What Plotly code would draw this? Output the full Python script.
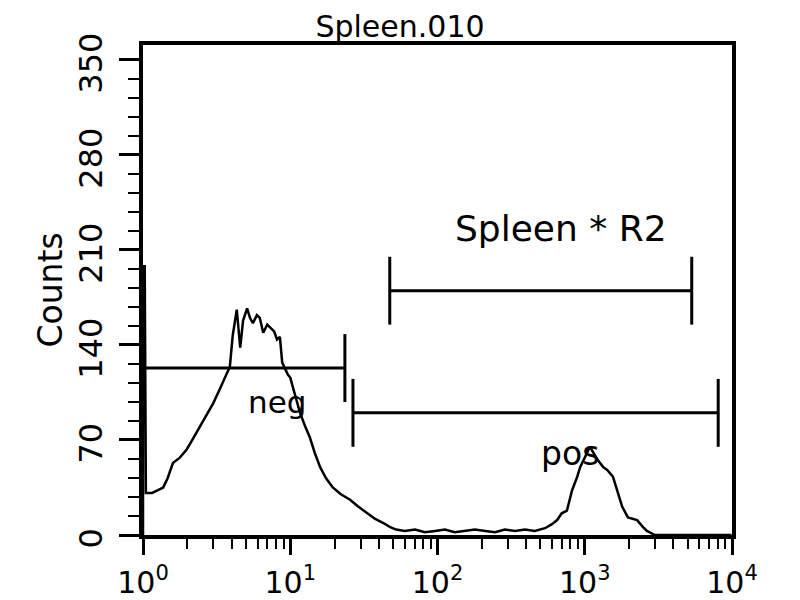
import plotly.graph_objects as go

# ---------------- data ----------------
# FL channel (0..1023, 4-decade log amplification: value = 10**(ch/256)) and event counts
channels = [0, 0, 3, 5, 7, 16, 26, 35, 43, 52, 64, 76, 87, 99, 111, 122, 134, 146, 151,
            156, 163, 169, 174, 181, 186, 191, 198, 203, 209, 216, 221, 228, 233, 238,
            242, 247, 252, 256, 261, 266, 273, 282, 290, 299, 308, 318, 330, 344, 360,
            374, 389, 403, 417, 429, 440, 455, 473, 490, 508, 525, 542, 560, 577, 595,
            612, 629, 647, 664, 681, 699, 711, 720, 728, 737, 746, 755, 760, 768, 777,
            784, 791, 800, 807, 817, 826, 833, 843, 859, 869, 876, 890, 960, 1023]
counts = [0, 198, 198, 31, 31, 31, 33, 35, 42, 53, 57, 63, 71, 80, 89, 97, 108, 119, 124,
          147, 166, 138, 158, 167, 160, 156, 162, 160, 149, 155, 153, 150, 144, 146,
          127, 122, 118, 116, 108, 100, 90, 80, 72, 60, 50, 42, 35, 30, 26,
          21, 16, 12, 9, 6, 4, 3, 4, 2, 3, 4, 2, 3, 4, 3,
          2, 4, 3, 4, 3, 5, 8, 11, 16, 18, 33, 43, 50, 57, 65,
          60, 55, 50, 48, 43, 31, 21, 13, 11, 6, 3, 0, 0, 0]

# marker gates (channels) and their count level on the plot
gate_names = ["neg", "pos", "Spleen * R2"]
gate_start = [0, 365, 429]
gate_end = [351, 1000, 954]
gate_level = [123, 90, 180]

x_tick_vals = [1, 10, 100, 1000, 10000]
x_tick_text = ["10<sup>0</sup>", "10<sup>1</sup>", "10<sup>2</sup>", "10<sup>3</sup>", "10<sup>4</sup>"]
x_minor_vals = [2, 3, 4, 5, 6, 7, 8, 9,
                20, 30, 40, 50, 60, 70, 80, 90,
                200, 300, 400, 500, 600, 700, 800, 900,
                2000, 3000, 4000, 5000, 6000, 7000, 8000, 9000]
y_tick_vals = [0, 70, 140, 210, 280, 350]
y_tick_text = ["0", "70", "140", "210", "280", "350"]

title_text = "Spleen.010"
y_title = "Counts"

# --------------- figure ---------------
def ch2val(c):
    return 10 ** (c / 256.0)

FONT = "DejaVu Sans, Verdana, sans-serif"
fig = go.Figure()

fig.add_trace(go.Scatter(
    x=[ch2val(c) for c in channels], y=counts, mode="lines",
    line=dict(color="black", width=2.5), hoverinfo="skip", showlegend=False))

tick_half = 25
label_style = {"neg": (233, 98, 31), "pos": (742, 60, 33), "Spleen * R2": (727, 226, 36)}
for name, s, e, lv in zip(gate_names, gate_start, gate_end, gate_level):
    xs, xe = ch2val(s), ch2val(e)
    fig.add_trace(go.Scatter(
        x=[xs, xe, None, xs, xs, None, xe, xe],
        y=[lv, lv, None, lv - tick_half, lv + tick_half, None, lv - tick_half, lv + tick_half],
        mode="lines", line=dict(color="black", width=3),
        hoverinfo="skip", showlegend=False))
    lx, ly, fs = label_style[name]
    fig.add_annotation(x=lx / 256.0, y=ly, text=name, showarrow=False,
                       xref="x", yref="y", font=dict(size=fs, color="black", family=FONT))

# the page places the figure 8px in from the top-left corner; margins compensate for that
fig.update_layout(
    width=800, height=600,
    margin=dict(l=135, r=76, t=37, b=73),
    paper_bgcolor="white", plot_bgcolor="white",
    font=dict(family=FONT, color="black", size=32),
    title=dict(text=title_text, x=392 / 800, xref="container", xanchor="center",
               y=1 - 18 / 600, yref="container", yanchor="middle",
               font=dict(size=30, color="black", family=FONT)),
    showlegend=False,
)

fig.update_xaxes(
    type="log", range=[0, 4], automargin=False,
    tickmode="array", tickvals=x_tick_vals, ticktext=x_tick_text,
    ticks="outside", ticklen=16, tickwidth=2.5, tickcolor="black",
    ticklabelstandoff=2,
    minor=dict(tickmode="array", tickvals=x_minor_vals, ticks="outside", ticklen=10,
               tickwidth=2, tickcolor="black", showgrid=False),
    showline=True, linewidth=4, linecolor="black", mirror=True,
    showgrid=False, zeroline=False,
    tickfont=dict(size=30, family=FONT, color="black"),
)
fig.update_yaxes(
    range=[0, 361], automargin=False,
    tickmode="array", tickvals=y_tick_vals, ticktext=y_tick_text, tickangle=-90,
    ticks="outside", ticklen=20, tickwidth=2.5, tickcolor="black",
    ticklabelshift=8, ticklabelstandoff=4,
    minor=dict(dtick=14, ticks="outside", ticklen=11, tickwidth=2, tickcolor="black", showgrid=False),
    showline=True, linewidth=4, linecolor="black", mirror=True,
    showgrid=False, zeroline=False,
    tickfont=dict(size=32, family=FONT, color="black"),
    title=dict(text=y_title, font=dict(size=33, family=FONT, color="black"), standoff=1),
)

fig.write_html("out.html")
